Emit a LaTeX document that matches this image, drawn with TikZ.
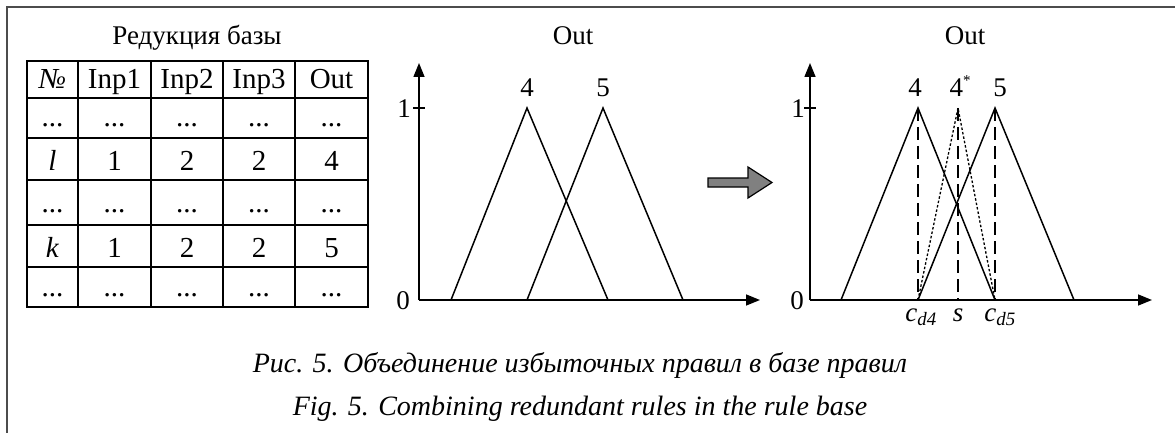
\documentclass[tikz,border=0pt]{standalone}
\usepackage{fontspec}
\setmainfont{Liberation Serif}
\usetikzlibrary{arrows.meta}
\newcommand{\rowdots}{...}

\begin{document}
\begin{tikzpicture}[x=1pt,y=-1pt,>={Triangle[length=14pt,width=11pt]},
  grid/.style={line width=1.6pt},
  mf/.style={line width=1.5pt},
  cell/.style={anchor=base,inner sep=0pt,font=\fontsize{29}{32}\selectfont},
  lbl/.style={anchor=base,inner sep=0pt,font=\fontsize{27}{30}\selectfont},
  captext/.style={anchor=base,inner sep=0pt,font=\fontsize{28}{30}\selectfont\itshape}]
\useasboundingbox (0,0) rectangle (1175,433);
\draw[line width=2pt,black!70] (6.5,433) -- (6.5,7.5) -- (1175,7.5);
% table of rules
\node[lbl] (tabtitle) at (197,45) {Редукция базы};
\draw[grid] (27,61) rectangle (368,307);
\foreach \x in {78,151,223,295} \draw[grid] (\x,61) -- (\x,307);
\foreach \y in {98,138,180,225,267} \draw[grid] (27,\y) -- (368,\y);
\foreach \y/\n/\a/\b/\c/\o [count=\i] in {89/\textit{№}/Inp1/Inp2/Inp3/Out,
    127/\rowdots/\rowdots/\rowdots/\rowdots/\rowdots, 171/\textit{l}/1/2/2/4,
    212/\rowdots/\rowdots/\rowdots/\rowdots/\rowdots, 257/\textit{k}/1/2/2/5,
    296/\rowdots/\rowdots/\rowdots/\rowdots/\rowdots}{
  \node[cell] (n\i) at (52.5,\y) {\n};
  \node[cell] (a\i) at (114.5,\y) {\a};
  \node[cell] (b\i) at (187,\y) {\b};
  \node[cell] (c\i) at (259,\y) {\c};
  \node[cell] (o\i) at (331.5,\y) {\o};
}
% first chart
\node[lbl] (outA) at (573,45) {Out};
\coordinate (origA) at (419,300);
\coordinate (xendA) at (760,300);
\coordinate (yendA) at (419,63);
\draw[mf,->] (origA) -- (xendA);
\draw[mf,->] (origA) -- (yendA);
\draw[mf] (413,108) -- (425,108);
\node[lbl] (zeroA) at (403,309) {0};
\node[lbl] (oneA) at (404,118) {1};
\draw[mf] (451,300) -- (527,108) -- (608,300);
\draw[mf] (527,300) -- (603,108) -- (683,300);
\node[lbl] (tA4) at (527,97) {4};
\node[lbl] (tA5) at (603,97) {5};
% grey arrow
\draw[line width=1.2pt,fill=black!50] (708,178) -- (748,178) -- (748,167) -- (772,182.5)
  -- (748,198) -- (748,187) -- (708,187) -- cycle;
% second chart
\node[lbl] (outB) at (965,45) {Out};
\coordinate (origB) at (810,300);
\coordinate (xendB) at (1152,300);
\coordinate (yendB) at (810,63);
\draw[mf,->] (origB) -- (xendB);
\draw[mf,->] (origB) -- (yendB);
\draw[mf] (804,108) -- (816,108);
\node[lbl] (zeroB) at (797,309) {0};
\node[lbl] (oneB) at (798,118) {1};
\draw[mf] (841,300) -- (918,108) -- (995,300);
\draw[mf] (918,300) -- (995,108) -- (1074,300);
\draw[line width=1.3pt,dash pattern=on 2.5pt off 2pt] (918,300) -- (958,108) -- (995,300);
\foreach \x in {918,958,995}
  \draw[line width=1.3pt,dash pattern=on 13pt off 6pt] (\x,108) -- (\x,300);
\node[lbl] (tB4) at (915,97) {4};
\node[lbl] (tBs) at (960,97) {4\raisebox{11pt}{\fontsize{15}{16}\selectfont*}};
\node[lbl] (tB5) at (1000,97) {5};
\node[lbl] (cd4) at (921,321) {\textit{c}\textsubscript{\textit{d4}}};
\node[lbl] (sv) at (958,321) {\textit{s}};
\node[lbl] (cd5) at (1000,321) {\textit{c}\textsubscript{\textit{d5}}};
% captions
\node[captext] (capru) at (580,372) {Рис. 5. Объединение избыточных правил в базе правил};
\node[captext] (capen) at (580,415) {Fig. 5. Combining redundant rules in the rule base};
\end{tikzpicture}
\end{document}
